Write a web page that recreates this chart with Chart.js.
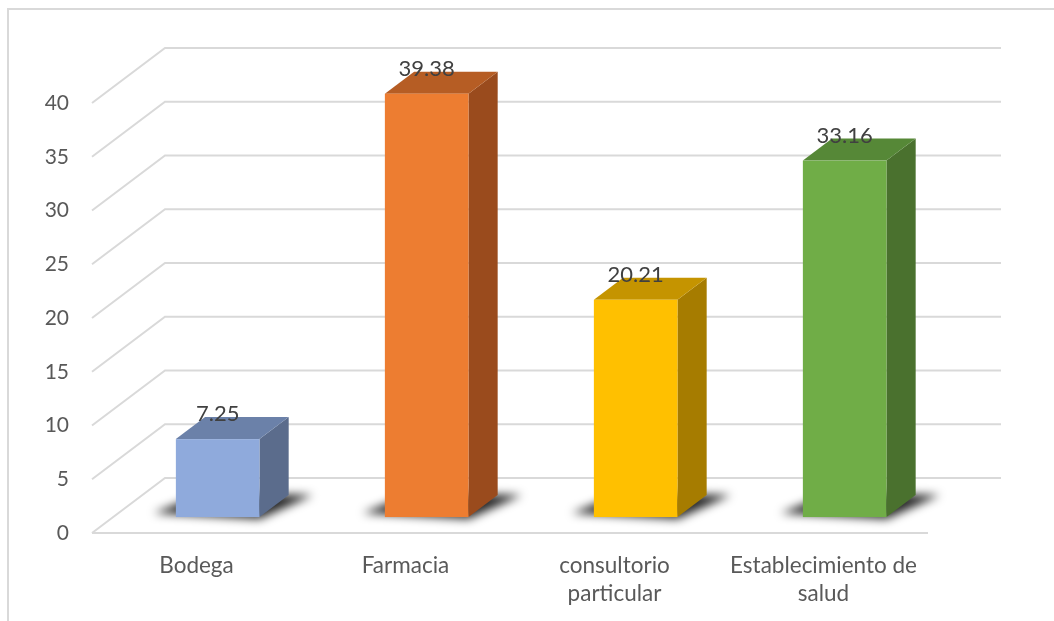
<!DOCTYPE html>
<html>
<head>
<meta charset="utf-8">
<script src="https://cdn.jsdelivr.net/npm/chart.js@4"></script>
<style>
  html, body { margin: 0; padding: 0; background: #fff; overflow: hidden; }
  #frame { position: absolute; left: 7px; top: 8px; width: 1200px; height: 800px; border: 2px solid #d9d9d9; box-sizing: border-box; }
  #chart { position: absolute; left: 0; top: 0; }
</style>
</head>
<body>
<div id="frame"></div>
<canvas id="chart" width="1054" height="621"></canvas>
<script>
// Data
const categories = ['Bodega', 'Farmacia', ['consultorio', 'particular'], ['Establecimiento de', 'salud']];
const values = [7.25, 39.38, 20.21, 33.16];
const yMin = 0;
const yMax = 40;
const yStep = 5;

// Face colours per bar: front, side, top
const frontColors = ['#8faadc', '#ed7d31', '#ffc000', '#70ad47'];
const sideColors = ['#5b6c8c', '#9a4b1d', '#a67c00', '#4a712e'];
const topColors = ['#6b81a9', '#b65d24', '#c59400', '#568837'];

// 3D projection: how far the back wall sits from the front plane
const DX = 73, DY = 55;
const BAR_FRONT = 0.29, BAR_BACK = 0.69;   // bar depth as fraction of the floor

const FONT = 'Lato, "Open Sans", sans-serif';
const TEXT = '#595959';

// Floor, back wall and diagonal grid lines
const wall3d = {
    id: 'wall3d',
    beforeDatasetsDraw(chart) {
        const { ctx, chartArea, scales: { y } } = chart;
        const { left, right } = chartArea;
        ctx.save();
        ctx.strokeStyle = '#d9d9d9';
        ctx.lineWidth = 2;
        ctx.beginPath();
        y.ticks.forEach(t => {
            const py = y.getPixelForValue(t.value);
            ctx.moveTo(left, py);
            ctx.lineTo(left + DX, py - DY);
            ctx.lineTo(right + DX, py - DY);
        });
        const y0 = y.getPixelForValue(0);
        ctx.moveTo(left, y0);
        ctx.lineTo(right, y0);
        ctx.stroke();
        ctx.restore();
    }
};

// Boxes with shadow, drawn from the bar elements' positions
const bars3d = {
    id: 'bars3d',
    afterDatasetsDraw(chart) {
        const { ctx } = chart;
        const meta = chart.getDatasetMeta(0);
        const ox = BAR_FRONT * DX, oy = BAR_FRONT * DY;
        const dx = (BAR_BACK - BAR_FRONT) * DX, dy = (BAR_BACK - BAR_FRONT) * DY;

        meta.data.forEach((bar, i) => {
            const half = bar.width / 2;
            const x0 = bar.x - half + ox, x1 = bar.x + half + ox;
            const top = bar.y - oy, base = bar.base - oy;

            // soft shadow on the floor
            ctx.save();
            ctx.filter = 'blur(5px)';
            ctx.fillStyle = 'rgba(0,0,0,0.85)';
            ctx.beginPath();
            ctx.moveTo(x0 - 22, base - 4);
            ctx.lineTo(x1, base + 2);
            ctx.lineTo(x1 + dx + 24, base - dy);
            ctx.lineTo(x0 + dx, base - dy - 2);
            ctx.closePath();
            ctx.fill();
            ctx.restore();

            ctx.save();
            // side face
            ctx.fillStyle = sideColors[i];
            ctx.beginPath();
            ctx.moveTo(x1, top);
            ctx.lineTo(x1 + dx, top - dy);
            ctx.lineTo(x1 + dx, base - dy);
            ctx.lineTo(x1, base);
            ctx.closePath();
            ctx.fill();
            // top face
            ctx.fillStyle = topColors[i];
            ctx.beginPath();
            ctx.moveTo(x0, top);
            ctx.lineTo(x0 + dx, top - dy);
            ctx.lineTo(x1 + dx, top - dy);
            ctx.lineTo(x1, top);
            ctx.closePath();
            ctx.fill();
            // front face
            ctx.fillStyle = frontColors[i];
            ctx.fillRect(x0, top, x1 - x0, base - top);

            // value label
            ctx.fillStyle = '#404040';
            ctx.font = '22px ' + FONT;
            ctx.textAlign = 'center';
            ctx.textBaseline = 'middle';
            ctx.fillText(values[i].toFixed(2), (x0 + x1) / 2, top - 25);
            ctx.restore();
        });
    }
};

new Chart(document.getElementById('chart'), {
    type: 'bar',
    data: {
        labels: categories,
        datasets: [{
            data: values,
            backgroundColor: 'rgba(0,0,0,0)',
            borderWidth: 0,
            barPercentage: 0.4,
            categoryPercentage: 1
        }]
    },
    options: {
        responsive: false,
        animation: false,
        devicePixelRatio: 1,
        layout: { padding: { top: 103, right: 126, left: 0, bottom: 0 } },
        plugins: { legend: { display: false }, tooltip: { enabled: false } },
        scales: {
            x: {
                grid: { display: false },
                border: { display: false },
                afterFit(scale) { scale.height = 88; },
                ticks: {
                    color: TEXT,
                    font: { family: FONT, size: 22.5, lineHeight: 1.25 },
                    padding: 11,
                    maxRotation: 0,
                    autoSkip: false
                }
            },
            y: {
                min: yMin,
                max: yMax,
                grid: { display: false },
                border: { display: false },
                afterFit(scale) { scale.width = 92; },
                ticks: {
                    stepSize: yStep,
                    color: TEXT,
                    font: { family: FONT, size: 21 },
                    padding: 15
                }
            }
        }
    },
    plugins: [wall3d, bars3d]
});
</script>
</body>
</html>
